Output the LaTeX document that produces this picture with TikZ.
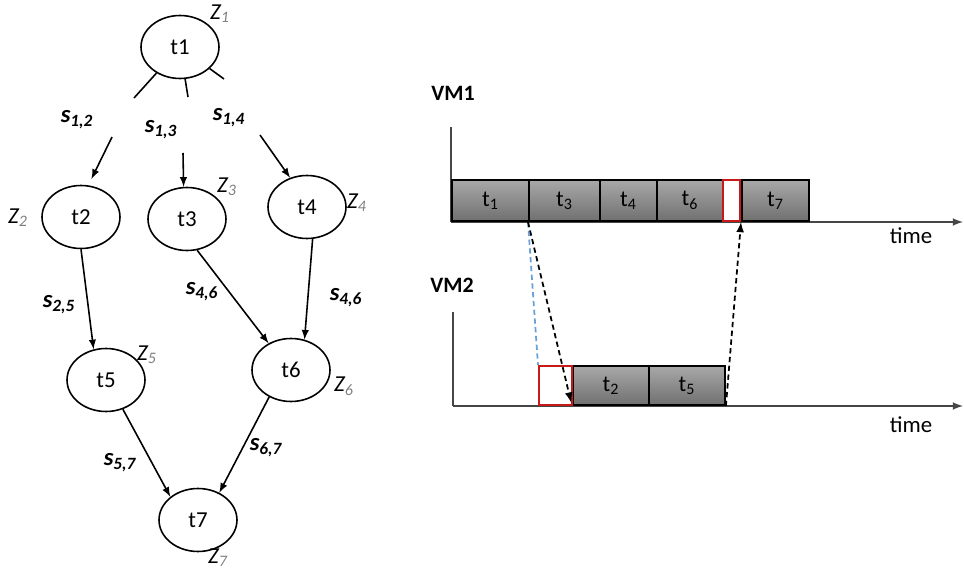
\documentclass[tikz,border=0pt]{standalone}
\usepackage{fontspec}
\setmainfont{Carlito}
\usepackage{pgf, tikz}
\usetikzlibrary{shapes.geometric}
\definecolor{boxtop}{RGB}{168,168,168}
\definecolor{boxbot}{RGB}{112,112,112}
\definecolor{gapred}{RGB}{200,25,25}
\definecolor{msgblue}{RGB}{105,160,215}
\definecolor{axisgray}{RGB}{70,70,70}
\begin{document}
\begin{tikzpicture}[x=0.02cm,y=-0.02cm,
         task/.style={draw,ellipse,line width=0.9pt,minimum width=1.56cm,minimum height=1.26cm,inner sep=0pt,font=\fontsize{13}{15}\selectfont},
         zlab/.style={inner sep=0pt,font=\fontsize{13}{15}\selectfont\itshape},
         slab/.style={inner sep=0pt,font=\fontsize{14}{16}\selectfont\bfseries\itshape},
         edge/.style={->,>=latex,line width=0.9pt},
         slot/.style={draw,line width=1.1pt,anchor=south west,inner sep=0pt,top color=boxtop,bottom color=boxbot,font=\fontsize{13}{15}\selectfont},
         idle/.style={draw=gapred,line width=1.1pt,fill=white,anchor=south west,inner sep=0pt},
         axis/.style={draw=axisgray,line width=1pt},
         msg/.style={dash pattern=on 3pt off 2pt,line width=1pt}]
         \useasboundingbox (0,0) rectangle (964,574);

         \node[task](t1) at (180,47) {t1};
         \node[task](t2) at (81,217) {t2};
         \node[task](t3) at (187,219) {t3};
         \node[task](t4) at (307,207) {t4};
         \node[task](t5) at (106,380) {t5};
         \node[task](t6) at (291,370) {t6};
         \node[task](t7) at (198,520) {t7};

         \node[zlab](z1) at (220,14) {Z\textsubscript{\color{gray}1}};
         \node[zlab](z2) at (18,218) {Z\textsubscript{\color{gray}2}};
         \node[zlab](z3) at (227,187) {Z\textsubscript{\color{gray}3}};
         \node[zlab](z4) at (357,203) {Z\textsubscript{\color{gray}4}};
         \node[zlab](z5) at (147,355) {Z\textsubscript{\color{gray}5}};
         \node[zlab](z6) at (344,386) {Z\textsubscript{\color{gray}6}};
         \node[zlab](z7) at (218,558) {Z\textsubscript{\color{gray}7}};

         \coordinate (a12) at (134,98);
         \coordinate (a13) at (188,97);
         \coordinate (a14) at (224,79);
         \coordinate (b12) at (112,137);
         \coordinate (b13) at (183,153);
         \coordinate (b14) at (260,135);

         \draw[line width=0.9pt](t1) -- (a12);
         \draw[line width=0.9pt](t1) -- (a13);
         \draw[line width=0.9pt](t1) -- (a14);
         \draw[edge,shorten >=4pt](b12) -- (t2.77);
         \draw[edge](b13) -- (t3.96);
         \draw[edge](b14) -- (t4.120);

         \node[slab](s12) at (77,120) {s\textsubscript{1,2}};
         \node[slab](s13) at (161,130) {s\textsubscript{1,3}};
         \node[slab](s14) at (229,118) {s\textsubscript{1,4}};
         \node[slab](s25) at (59,305) {s\textsubscript{2,5}};
         \node[slab](s36) at (202,292) {s\textsubscript{4,6}};
         \node[slab](s46) at (346,298) {s\textsubscript{4,6}};
         \node[slab](s57) at (120,463) {s\textsubscript{5,7}};
         \node[slab](s67) at (266,448) {s\textsubscript{6,7}};

         \draw[edge](t2.south) -- (t5.112);
         \draw[edge](t3.-72) -- (t6.130);
         \draw[edge](t4.-80) -- (t6.66);
         \draw[edge](t5.-60) -- (t7.140);
         \draw[edge](t6.231) -- (t7.52);

         \node[font=\fontsize{12.5}{15}\selectfont\bfseries](vm1) at (453,93) {VM1};
         \node[font=\fontsize{12.5}{15}\selectfont\bfseries](vm2) at (452,285) {VM2};
         \node[font=\fontsize{13}{15}\selectfont](time1) at (911,236) {time};
         \node[font=\fontsize{13}{15}\selectfont](time2) at (911,425) {time};

         \coordinate (o1) at (451,222);
         \coordinate (y1) at (451,127);
         \coordinate (x1) at (963,222);
         \coordinate (o2) at (453,406);
         \coordinate (y2) at (453,312);
         \coordinate (x2) at (963,406);
         \draw[axis](y1) -- (o1);
         \draw[axis,->,>=latex](o1) -- (x1);
         \draw[axis](y2) -- (o2);
         \draw[axis,->,>=latex](o2) -- (x2);

         \node[slot,minimum width=1.54cm,minimum height=0.82cm](g1) at (451,222) {t\textsubscript{1}};
         \node[slot,minimum width=1.42cm,minimum height=0.82cm](g3) at (528,222) {t\textsubscript{3}};
         \node[slot,minimum width=1.14cm,minimum height=0.82cm](g4) at (599,222) {t\textsubscript{4}};
         \node[slot,minimum width=1.32cm,minimum height=0.82cm](g6) at (656,222) {t\textsubscript{6}};
         \node[slot,minimum width=1.34cm,minimum height=0.82cm](g7) at (741,222) {t\textsubscript{7}};
         \node[idle,minimum width=0.34cm,minimum height=0.82cm](r1) at (722,222) {};

         \node[slot,minimum width=1.52cm,minimum height=0.78cm](g2) at (572,406) {t\textsubscript{2}};
         \node[slot,minimum width=1.52cm,minimum height=0.78cm](g5) at (648,406) {t\textsubscript{5}};
         \node[idle,minimum width=0.66cm,minimum height=0.78cm](r2) at (538,406) {};

         \draw[msg,draw=msgblue](g3.south west) -- (r2.north west);
         \draw[msg,->,>=latex,shorten >=2pt](g3.south west) -- (g2.south west);
         \draw[msg,->,>=latex](g5.south east) -- (g7.south west);
\end{tikzpicture}
\end{document}
